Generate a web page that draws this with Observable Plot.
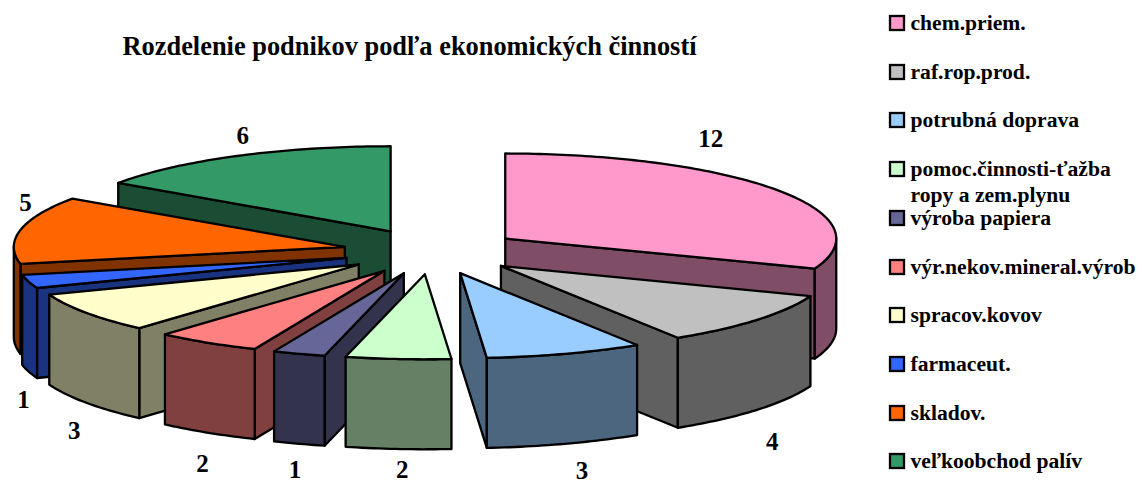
<!DOCTYPE html>
<html><head><meta charset="utf-8">
<style>html,body{margin:0;padding:0;background:#fff}svg{display:block}</style>
<script src="https://cdn.jsdelivr.net/npm/d3@7"></script>
<script src="https://cdn.jsdelivr.net/npm/@observablehq/plot@0.6"></script>
</head><body><div id="chart"></div>
<script>
// --- data ---
const titleText = "Rozdelenie podnikov podľa ekonomických činností";
const categories = ["chem.priem.","raf.rop.prod.","potrubná doprava","pomoc.činnosti-ťažba","výroba papiera","výr.nekov.mineral.výrob","spracov.kovov","farmaceut.","skladov.","veľkoobchod palív"];
const values = [12,4,3,2,1,2,3,1,5,6];
const topColors = ["#ff99cc","#c0c0c0","#99ccff","#ccffcc","#666699","#ff8080","#ffffcc","#3366ff","#ff6600","#339966"];
const legendExtra = "ropy a zem.plynu";

// --- layout of the exploded 3-D pie ---
const W = 1143, H = 483;
const pie = {cx:431.5, cy:251, rx:331, ry:85, explode:89, depth:90};
const labelNudge = [[-67,-51],[15,32],[17,27],[4,21],[-4,26],[-5,31],[-12,28],[-5,28],[5,-27],[6,-20]];
const legendRows = [23,72,120,169,218,267,315,364,413,461];
const legendLayout = {x1:890, x2:904, text:910, extra:195};

const total = d3.sum(values);
const rad = d => d*Math.PI/180;
let cum = 0;
const slices = values.map((v,i)=>{
  const a0 = cum/total*360; cum += v; const a1 = cum/total*360;
  const m = (a0+a1)/2;
  const ox = pie.cx + pie.explode*Math.sin(rad(m));
  const oy = pie.cy - pie.explode*(pie.ry/pie.rx)*Math.cos(rad(m));
  return {i,v,a0,a1,m,ox,oy,top:topColors[i]};
});
const halve = c => { const r = d3.rgb(c); return d3.rgb(r.r/2,r.g/2,r.b/2).formatHex(); };
const pt = (s,a,drop=0)=>[s.ox+pie.rx*Math.sin(rad(a)), s.oy-pie.ry*Math.cos(rad(a))+drop];
const sweep = (a,b)=>{const n=Math.max(1,Math.ceil(Math.abs(b-a)));return d3.range(n+1).map(k=>a+(b-a)*k/n);};

const faces = [];
const push = (id,fill,pts)=>{ pts.concat([pts[0]]).forEach(p=>faces.push({id,fill,x:p[0],y:p[1]})); };
const order = slices.slice().sort((p,q)=>Math.cos(rad(q.m))-Math.cos(rad(p.m)));
order.forEach(s=>{
  const dark = halve(s.top), d = pie.depth, o=[s.ox,s.oy], ob=[s.ox,s.oy+d];
  if (Math.sin(rad(s.a0))<-1e-6){ push(`w0${s.i}`,dark,[o,pt(s,s.a0),pt(s,s.a0,d),ob]); }
  if (Math.sin(rad(s.a1))>1e-6){ push(`w1${s.i}`,dark,[o,pt(s,s.a1),pt(s,s.a1,d),ob]); }
  const f0=Math.max(s.a0,90), f1=Math.min(s.a1,270);
  if (f1>f0){
    const arc=sweep(f0,f1);
    push(`o${s.i}`,dark,arc.map(a=>pt(s,a)).concat(arc.slice().reverse().map(a=>pt(s,a,d))));
  }
  push(`t${s.i}`,s.top,[o].concat(sweep(s.a0,s.a1).map(a=>pt(s,a))));
});

const labels = slices.map(s=>{
  const p = pt(s,s.m,Math.cos(rad(s.m))<0?pie.depth:0);
  return {text:String(s.v),x:p[0]+labelNudge[s.i][0],y:p[1]+labelNudge[s.i][1]};
});
const legend = categories.map((c,i)=>({c,y:legendRows[i],fill:topColors[i]}));
const font = "'Liberation Serif','Times New Roman',serif";

const plot = Plot.plot({
  width:W,height:H,margin:0,
  x:{domain:[0,W],range:[0,W],axis:null},
  y:{domain:[0,H],range:[0,H],axis:null},
  color:{type:"identity"},
  style:{fontFamily:font,background:"#fff"},
  marks:[
    Plot.line(faces,{x:"x",y:"y",z:"id",fill:"fill",stroke:"#000",strokeWidth:2.3,curve:"linear",strokeLinejoin:"round"}),
    Plot.text(labels,{x:"x",y:"y",text:"text",fontSize:25,fontWeight:"bold",fill:"#000",lineAnchor:"middle"}),
    Plot.text([titleText],{x:()=>409,y:()=>46,text:d=>d,fontSize:26.4,fontWeight:"bold",fill:"#000",lineAnchor:"middle"}),
    Plot.rect(legend,{x1:()=>legendLayout.x1,x2:()=>legendLayout.x2,y1:d=>d.y-7,y2:d=>d.y+7,fill:"fill",stroke:"#000",strokeWidth:2.3}),
    Plot.text(legend,{x:()=>legendLayout.text,y:"y",text:"c",fontSize:21.6,fontWeight:"bold",textAnchor:"start",fill:"#000",lineAnchor:"middle"}),
    Plot.text([legendExtra],{x:()=>legendLayout.text,y:()=>legendLayout.extra,text:d=>d,fontSize:21.6,fontWeight:"bold",textAnchor:"start",fill:"#000",lineAnchor:"middle"})
  ]
});
document.getElementById("chart").append(plot);
</script></body></html>
